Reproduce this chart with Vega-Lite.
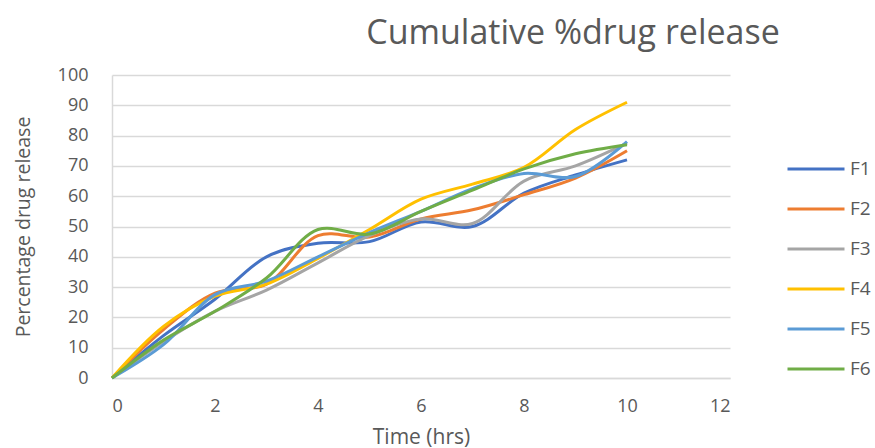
{
  "$schema": "https://vega.github.io/schema/vega-lite/v6.json",
  "autosize": {"type": "none"},
  "width": 618,
  "height": 303,
  "padding": {"left": 112, "top": 75, "right": 145, "bottom": 70},
  "background": "white",
  "title": {
    "text": "Cumulative %drug release",
    "anchor": "middle",
    "dx": 152,
    "offset": 15,
    "fontSize": 34,
    "font": "Open Sans",
    "fontWeight": "normal",
    "color": "#595959"
  },
  "data": {
    "values": [
      {"t": 0, "s": "F1", "v": 0}, {"t": 1, "s": "F1", "v": 14}, {"t": 2, "s": "F1", "v": 26}, {"t": 3, "s": "F1", "v": 40}, {"t": 4, "s": "F1", "v": 44.5}, {"t": 5, "s": "F1", "v": 45}, {"t": 6, "s": "F1", "v": 51.5}, {"t": 7, "s": "F1", "v": 50}, {"t": 8, "s": "F1", "v": 61}, {"t": 9, "s": "F1", "v": 67}, {"t": 10, "s": "F1", "v": 72},
      {"t": 0, "s": "F2", "v": 0}, {"t": 1, "s": "F2", "v": 16}, {"t": 2, "s": "F2", "v": 28}, {"t": 3, "s": "F2", "v": 31}, {"t": 4, "s": "F2", "v": 47}, {"t": 5, "s": "F2", "v": 46.5}, {"t": 6, "s": "F2", "v": 52.5}, {"t": 7, "s": "F2", "v": 55.5}, {"t": 8, "s": "F2", "v": 60.5}, {"t": 9, "s": "F2", "v": 66}, {"t": 10, "s": "F2", "v": 75},
      {"t": 0, "s": "F3", "v": 0}, {"t": 1, "s": "F3", "v": 12}, {"t": 2, "s": "F3", "v": 22}, {"t": 3, "s": "F3", "v": 29}, {"t": 4, "s": "F3", "v": 38}, {"t": 5, "s": "F3", "v": 47}, {"t": 6, "s": "F3", "v": 52.5}, {"t": 7, "s": "F3", "v": 51}, {"t": 8, "s": "F3", "v": 65}, {"t": 9, "s": "F3", "v": 70}, {"t": 10, "s": "F3", "v": 77.5},
      {"t": 0, "s": "F4", "v": 0}, {"t": 1, "s": "F4", "v": 17}, {"t": 2, "s": "F4", "v": 27}, {"t": 3, "s": "F4", "v": 31}, {"t": 4, "s": "F4", "v": 39.5}, {"t": 5, "s": "F4", "v": 49}, {"t": 6, "s": "F4", "v": 59}, {"t": 7, "s": "F4", "v": 64}, {"t": 8, "s": "F4", "v": 69.5}, {"t": 9, "s": "F4", "v": 82}, {"t": 10, "s": "F4", "v": 91},
      {"t": 0, "s": "F5", "v": 0}, {"t": 1, "s": "F5", "v": 11}, {"t": 2, "s": "F5", "v": 27.5}, {"t": 3, "s": "F5", "v": 32}, {"t": 4, "s": "F5", "v": 40}, {"t": 5, "s": "F5", "v": 48}, {"t": 6, "s": "F5", "v": 55}, {"t": 7, "s": "F5", "v": 62.5}, {"t": 8, "s": "F5", "v": 67.5}, {"t": 9, "s": "F5", "v": 66.5}, {"t": 10, "s": "F5", "v": 78},
      {"t": 0, "s": "F6", "v": 0}, {"t": 1, "s": "F6", "v": 12.5}, {"t": 2, "s": "F6", "v": 22}, {"t": 3, "s": "F6", "v": 33}, {"t": 4, "s": "F6", "v": 49}, {"t": 5, "s": "F6", "v": 47.5}, {"t": 6, "s": "F6", "v": 55}, {"t": 7, "s": "F6", "v": 62}, {"t": 8, "s": "F6", "v": 69}, {"t": 9, "s": "F6", "v": 74}, {"t": 10, "s": "F6", "v": 77}
    ]
  },
  "mark": {"type": "line", "interpolate": "catmull-rom", "strokeWidth": 3},
  "encoding": {
    "x": {
      "field": "t", "type": "quantitative",
      "scale": {"domain": [0, 12], "nice": false},
      "axis": {
        "title": "Time (hrs)", "values": [0, 2, 4, 6, 8, 10, 12],
        "grid": false, "ticks": false, "domainColor": "#d9d9d9", "domainWidth": 1.5,
        "labelFontSize": 18, "labelColor": "#595959", "labelFont": "Open Sans", "labelPadding": 19,
        "titleFontSize": 21, "titleColor": "#595959", "titleFont": "Open Sans", "titleFontWeight": "normal", "titlePadding": 11
      }
    },
    "y": {
      "field": "v", "type": "quantitative",
      "scale": {"domain": [0, 100], "nice": false},
      "axis": {
        "title": "Percentage drug release", "values": [0, 10, 20, 30, 40, 50, 60, 70, 80, 90, 100],
        "grid": true, "gridColor": "#d9d9d9", "gridWidth": 1.5, "ticks": false,
        "domainColor": "#d9d9d9", "domainWidth": 1.5,
        "labelFontSize": 18, "labelColor": "#595959", "labelFont": "Open Sans", "labelPadding": 24,
        "titleFontSize": 19.5, "titleColor": "#595959", "titleFont": "Open Sans", "titleFontWeight": "normal", "titlePadding": 24
      }
    },
    "color": {
      "field": "s", "type": "nominal",
      "scale": {"domain": ["F1", "F2", "F3", "F4", "F5", "F6"], "range": ["#4472C4", "#ED7D31", "#A5A5A5", "#FFC000", "#5B9BD5", "#70AD47"]},
      "legend": {
        "title": null, "orient": "none", "legendX": 674, "legendY": 64,
        "symbolType": "stroke", "symbolSize": 3249, "symbolStrokeWidth": 3,
        "labelFontSize": 19, "labelColor": "#595959", "labelFont": "Open Sans",
        "rowPadding": -18, "labelOffset": 4
      }
    }
  },
  "config": {"view": {"stroke": null}}
}
